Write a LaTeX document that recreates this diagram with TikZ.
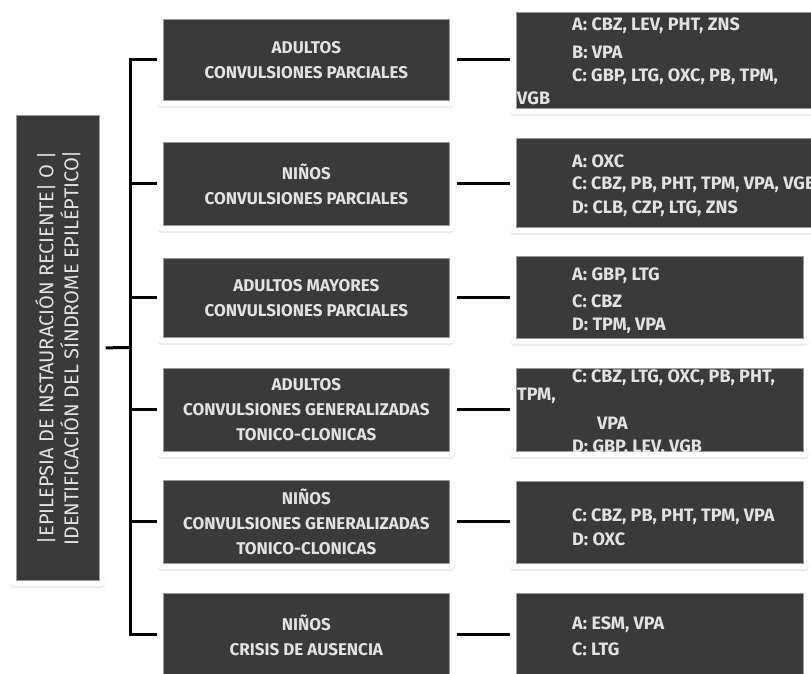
\documentclass[tikz,border=0pt]{standalone}
\usepackage{fontspec}
\setmainfont{Fira Sans}
\usetikzlibrary{calc}
\definecolor{boxfill}{HTML}{3A3A3A}
\definecolor{boxedge}{HTML}{9A9A9A}
\definecolor{txt}{HTML}{E2E2E2}
\tikzset{
  darkbox/.style={draw=boxedge, line width=0.7pt, fill=boxfill, inner sep=0pt,
    text=txt, align=center, font=\fontsize{17}{25}\selectfont\bfseries},
  conn/.style={line width=3pt, black},
  lbl/.style={text=txt, font=\fontsize{18}{25}\selectfont\bfseries, inner sep=0pt, anchor=west},
}
\newcommand{\dbox}[6]{%
  \fill[black!7, rounded corners=4pt] (#2-6,#3-5) rectangle (#4+6,#5+8);
  \fill[white, rounded corners=4pt] (#2-6,#3-6) rectangle (#4+6,#5+6);
  \node[darkbox, minimum width=#4-#2, minimum height=#5-#3, anchor=north west] (#1) at (#2,#3) {#6};
}
\begin{document}
\begin{tikzpicture}[x=1pt,y=-1pt]
\useasboundingbox (0,0) rectangle (811,673);
\clip (0,0) rectangle (811,673);
\fill[white] (0,0) rectangle (811,673);
% root
\dbox{root}{16}{115}{99}{580}{}
\node[rotate=90, text=txt, align=center, inner sep=0pt, font=\fontsize{20}{25}\selectfont] (roottxt) at (root.center)
  {|EPILEPSIA DE INSTAURACIÓN RECIENTE| O |\\IDENTIFICACIÓN DEL SÍNDROME EPILÉPTICO|};
% middle boxes
\dbox{m1}{163}{19}{449}{100}{ADULTOS\\CONVULSIONES PARCIALES}
\dbox{m2}{163}{142}{449}{225}{NIÑOS\\CONVULSIONES PARCIALES}
\dbox{m3}{163}{258}{449}{337}{ADULTOS MAYORES\\CONVULSIONES PARCIALES}
\dbox{m4}{163}{368}{449}{451}{ADULTOS\\CONVULSIONES GENERALIZADAS\\TONICO-CLONICAS}
\dbox{m5}{163}{480}{449}{563}{NIÑOS\\CONVULSIONES GENERALIZADAS\\TONICO-CLONICAS}
\dbox{m6}{163}{593}{449}{676}{NIÑOS\\CRISIS DE AUSENCIA}
% right boxes
\dbox{r1}{516}{12}{830}{108}{}
\dbox{r2}{516}{138}{830}{227}{}
\dbox{r3}{516}{256}{803}{338}{}
\dbox{r4}{516}{368}{803}{451}{}
\dbox{r5}{516}{481}{803}{563}{}
\dbox{r6}{516}{593}{803}{676}{}
% right texts
\node[lbl] (r1a) at (572,26) {A: CBZ, LEV, PHT, ZNS};
\node[lbl] (r1b) at (572,52) {B: VPA};
\node[lbl] (r1c) at (572,77) {C: GBP, LTG, OXC, PB, TPM,};
\node[lbl] (r1d) at (517,98) {VGB};
\node[lbl] (r2a) at (572,161) {A: OXC};
\node[lbl] (r2c) at (572,185) {C: CBZ, PB, PHT, TPM, VPA, VGB};
\node[lbl] (r2d) at (572,209) {D: CLB, CZP, LTG, ZNS};
\node[lbl] (r3a) at (572,276) {A: GBP, LTG};
\node[lbl] (r3c) at (572,301) {C: CBZ};
\node[lbl] (r3d) at (572,326) {D: TPM, VPA};
\begin{scope}
\clip (516,368) rectangle (803,451);
\node[lbl] (r4c) at (572,378) {C: CBZ, LTG, OXC, PB, PHT,};
\node[lbl] (r4t) at (517,396) {TPM,};
\node[lbl] (r4v) at (597,423) {VPA};
\node[lbl] (r4d) at (572,448) {D: GBP, LEV, VGB};
\end{scope}
\node[lbl] (r5c) at (572,517) {C: CBZ, PB, PHT, TPM, VPA};
\node[lbl] (r5d) at (572,539) {D: OXC};
\node[lbl] (r6a) at (572,625) {A: ESM, VPA};
\node[lbl] (r6c) at (572,649) {C: LTG};
% connectors
\coordinate (hub) at (130,347.5);
\draw[conn] ([xshift=6pt]root.east) -- (hub);
\draw[conn, line join=miter] ([xshift=-6pt]m1.west) -- (m1.west -| hub) -- (m6.west -| hub) -- ([xshift=-6pt]m6.west);
\foreach \m in {m2,m3,m4,m5}{
  \draw[conn] (\m.west -| hub) -- ([xshift=-6pt]\m.west);
}
\foreach \m/\r in {m1/r1,m2/r2,m3/r3,m4/r4,m5/r5,m6/r6}{
  \draw[conn] ([xshift=7pt]\m.east) -- ([xshift=-6pt]\r.west |- \m.east);
}
\end{tikzpicture}
\end{document}
